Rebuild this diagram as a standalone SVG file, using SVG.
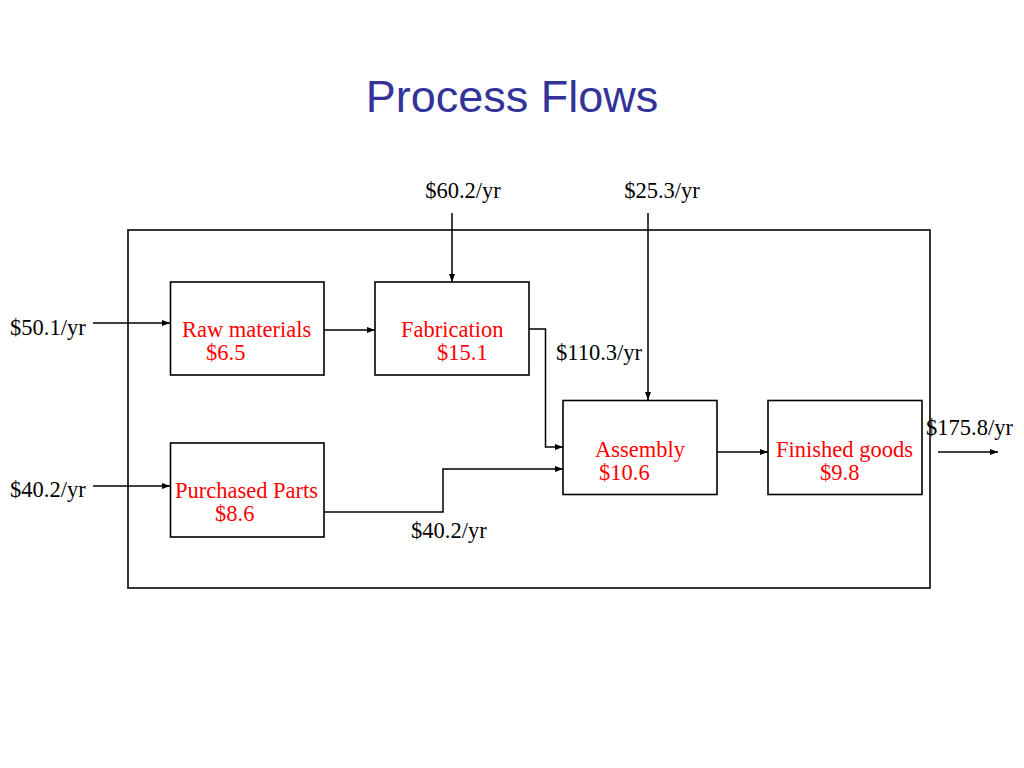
<svg xmlns="http://www.w3.org/2000/svg" width="1024" height="768" viewBox="0 0 1024 768">
<defs>
<marker id="arr" markerWidth="8" markerHeight="6" refX="8" refY="3" orient="auto" markerUnits="userSpaceOnUse">
<path d="M0,0 L8,3 L0,6 Z" fill="#000"/>
</marker>
<style>
.box{fill:#fff;stroke:#000;stroke-width:1.6}
.lbl{font-family:"Liberation Serif","Times New Roman",serif;font-size:22.5px;fill:#000}
.red{font-family:"Liberation Serif","Times New Roman",serif;font-size:22.5px;fill:#ff0000}
.con{fill:none;stroke:#000;stroke-width:1.5}
</style>
</defs>
<rect width="1024" height="768" fill="#fff"/>
<text x="512" y="112" text-anchor="middle" font-family="'Liberation Sans',Arial,sans-serif" font-size="45" fill="#333399">Process Flows</text>
<g id="boundary">
<rect x="128" y="230" width="802" height="358" fill="none" stroke="#222" stroke-width="1.8"/>
</g>
<g id="raw-materials">
<rect class="box" x="170.5" y="282" width="153.5" height="93"/>
<text class="red" x="182" y="337">Raw materials</text>
<text class="red" x="206" y="360">$6.5</text>
</g>
<g id="purchased-parts">
<rect class="box" x="170.5" y="443" width="153.5" height="94"/>
<text class="red" x="175" y="498">Purchased Parts</text>
<text class="red" x="215" y="521">$8.6</text>
</g>
<g id="fabrication">
<rect class="box" x="375" y="282" width="154" height="93"/>
<text class="red" x="401" y="337">Fabrication</text>
<text class="red" x="437" y="360">$15.1</text>
</g>
<g id="assembly">
<rect class="box" x="563" y="400.5" width="154" height="94"/>
<text class="red" x="595" y="457">Assembly</text>
<text class="red" x="599" y="480">$10.6</text>
</g>
<g id="finished-goods">
<rect class="box" x="768" y="400.5" width="154" height="94"/>
<text class="red" x="776" y="457">Finished goods</text>
<text class="red" x="820" y="480">$9.8</text>
</g>
<g id="connectors">
<path class="con" d="M93,323 L170,323" marker-end="url(#arr)"/>
<path class="con" d="M93,486 L170,486" marker-end="url(#arr)"/>
<path class="con" d="M324,330 L375,330" marker-end="url(#arr)"/>
<path class="con" d="M452,213 L452,282" marker-end="url(#arr)"/>
<path class="con" d="M648,213 L648,400" marker-end="url(#arr)"/>
<path class="con" d="M529,329 L545.5,329 L545.5,447 L563,447" marker-end="url(#arr)"/>
<path class="con" d="M324,512 L443,512 L443,469 L563,469" marker-end="url(#arr)"/>
<path class="con" d="M717,452 L768,452" marker-end="url(#arr)"/>
<path class="con" d="M938,452 L998,452" marker-end="url(#arr)"/>
</g>
<g id="labels">
<text class="lbl" x="10" y="335">$50.1/yr</text>
<text class="lbl" x="10" y="497">$40.2/yr</text>
<text class="lbl" x="463" y="198" text-anchor="middle">$60.2/yr</text>
<text class="lbl" x="662" y="198" text-anchor="middle">$25.3/yr</text>
<text class="lbl" x="556" y="360">$110.3/yr</text>
<text class="lbl" x="411" y="538">$40.2/yr</text>
<text class="lbl" x="926" y="435">$175.8/yr</text>
</g>
</svg>
